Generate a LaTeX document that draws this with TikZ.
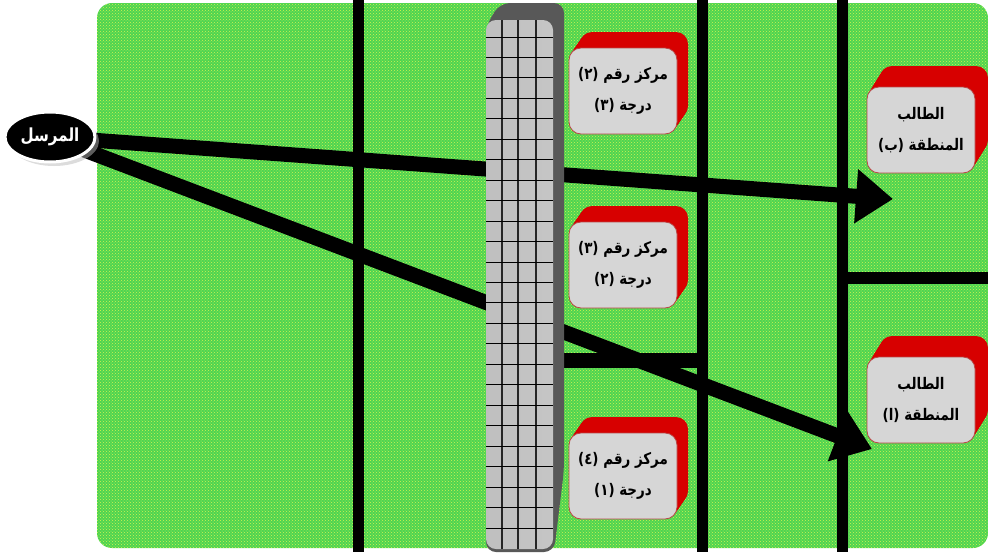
\documentclass[tikz,border=0pt]{standalone}
\usepackage{fontspec}
\newfontfamily\arabicfont[Script=Arabic, FakeStretch=0.84]{DejaVu Sans}
\TeXXeTstate=1
\usetikzlibrary{shapes.geometric, arrows.meta, patterns, shadows, positioning}

\definecolor{fieldgreen}{RGB}{78,212,82}
\definecolor{dotyellow}{RGB}{210,242,80}
\definecolor{walldark}{RGB}{88,88,88}
\definecolor{boxred}{RGB}{215,0,0}
\definecolor{facegray}{RGB}{214,214,214}

\pgfdeclarelayer{field}
\pgfdeclarelayer{lines}
\pgfsetlayers{field,lines,main}

\tikzset{
    road/.style={line width=11pt, black},
    msgarrow/.style={line width=15pt, black, -{Triangle[length=37pt,width=52pt]}},
    boxface/.style={rounded corners=12pt, fill=facegray, draw=red!45!gray,
        line width=0.8pt, minimum width=108pt, minimum height=86pt},
    boxtext/.style={font=\arabicfont\bfseries\fontsize{16}{31}\selectfont,
        align=center, text=black},
    senderstyle/.style={ellipse, fill=black, draw=white, line width=3pt,
        minimum width=90pt, minimum height=50pt, inner sep=0pt,
        drop shadow={shadow xshift=4pt, shadow yshift=-4pt, fill=gray!55},
        text=white, font=\arabicfont\bfseries\fontsize{18}{20}\selectfont}
}

\begin{document}
\begin{tikzpicture}[
        x=1pt,
        y=-1pt,
        line join=round
    ]
    \useasboundingbox (0,0) rectangle (988,552);

    % =================================
    % NGƯỜI GỬI
    % =================================
    \node[senderstyle] (sender) at (50,137) {\beginR المرسل\endR};

    \coordinate (tipB) at (893,199);
    \coordinate (tipA) at (872,449);

    % =================================
    % NỀN XANH
    % =================================
    \begin{pgfonlayer}{field}
        \fill[fieldgreen, rounded corners=15pt]
            (97,3) rectangle (988,548);
        \fill[pattern=crosshatch dots, pattern color=dotyellow, rounded corners=15pt]
            (97,3) rectangle (988,548);
    \end{pgfonlayer}

    % =================================
    % ĐƯỜNG VÀ MŨI TÊN
    % =================================
    \begin{pgfonlayer}{lines}
        % đường dọc
        \draw[road] (358,0) -- (358,552);
        \draw[road] (702,0) -- (702,552);
        \draw[road] (842,0) -- (842,552);

        % đường ngang
        \draw[road, line width=12pt] (842,278) -- (988,278);
        \draw[road, line width=15pt] (555,360) -- (702,360);

        % mũi tên
        \draw[msgarrow] (sender.center) -- (tipB);
        \draw[msgarrow] (sender.center) -- (tipA);
    \end{pgfonlayer}

    % =================================
    % BỨC TƯỜNG
    % =================================
    \fill[walldark, rounded corners=10pt]
        (486,26) -- (500,3) -- (564,3) -- (564,470) -- (554,552) -- (486,552) -- cycle;
    \shade[left color=gray!50, middle color=gray!22, right color=gray!45, rounded corners=10pt]
        (486,20) rectangle (553,549);

    \foreach \gx in {502,518,536}
        \draw[gray!30!black, line width=1.2pt] (\gx,20) -- (\gx,549);
    \foreach \i in {0,...,24}
        \draw[black, line width=1pt] (486,{37+20.46*\i}) -- (553,{37+20.46*\i});

    % =================================
    % KHỐI ĐỎ (phần nổi)
    % =================================
    \foreach \bx/\by/\ox/\oy in {623/91/11/16, 623/265/11/16, 623/476/11/16,
                                 921/130/13/21, 921/400/13/21}
        \foreach \s in {1,...,16}
            \fill[boxred, rounded corners=12pt]
                ({\bx-54+\ox*\s/16},{\by-43-\oy*\s/16}) rectangle ++(108,86);

    % =================================
    % MẶT HỘP
    % =================================
    \node[boxface, boxtext] (centreTwo) at (623,91)
        {\beginR مركز رقم (٢)\endR\\\beginR درجة (٣)\endR};
    \node[boxface, boxtext] (centreThree) at (623,265)
        {\beginR مركز رقم (٣)\endR\\\beginR درجة (٢)\endR};
    \node[boxface, boxtext] (centreFour) at (623,476)
        {\beginR مركز رقم (٤)\endR\\\beginR درجة (١)\endR};
    \node[boxface, boxtext] (zoneB) at (921,130)
        {\beginR الطالب\endR\\\beginR المنطقة (ب)\endR};
    \node[boxface, boxtext] (zoneA) at (921,400)
        {\beginR الطالب\endR\\\beginR المنطقة (ا)\endR};

\end{tikzpicture}
\end{document}
